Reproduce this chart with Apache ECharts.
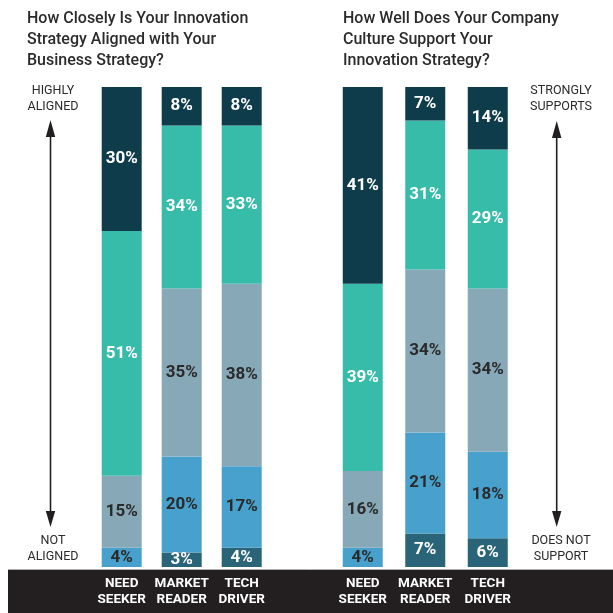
<!DOCTYPE html>
<html>
<head>
<meta charset="utf-8">
<script src="https://cdn.jsdelivr.net/npm/echarts@6/dist/echarts.min.js"></script>
<style>
html,body{margin:0;padding:0;background:#fff;}
#c{width:613px;height:613px;}
</style>
</head>
<body>
<div id="c"></div>
<script>
// ---- data ----
var categories = ['NEED\nSEEKER', 'MARKET\nREADER', 'TECH\nDRIVER'];
var leftTitle = 'How Closely Is Your Innovation\nStrategy Aligned with Your\nBusiness Strategy?';
var rightTitle = 'How Well Does Your Company\nCulture Support Your\nInnovation Strategy?';
// bottom (lowest) level to top (highest) level
var alignLevel1 = [0, 3, 4];
var alignLevel2 = [4, 20, 17];
var alignLevel3 = [15, 35, 38];
var alignLevel4 = [51, 34, 33];
var alignLevel5 = [30, 8, 8];
var cultureLevel1 = [0, 7, 6];
var cultureLevel2 = [4, 21, 18];
var cultureLevel3 = [16, 34, 34];
var cultureLevel4 = [39, 31, 29];
var cultureLevel5 = [41, 7, 14];
var leftScaleTop = 'HIGHLY\nALIGNED', leftScaleBottom = 'NOT\nALIGNED';
var rightScaleTop = 'STRONGLY\nSUPPORTS', rightScaleBottom = 'DOES NOT\nSUPPORT';

// ---- style ----
var levelColors = ['#2a6478', '#48a1cc', '#87a8b7', '#38bcaa', '#0f3c4b'];
var labelColors = ['#ffffff', '#2a2a2a', '#2a2a2a', '#ffffff', '#ffffff'];
var FONT = 'Roboto, "Liberation Sans", sans-serif';

function makeSeries(levels, idx) {
  return levels.map(function (vals, i) {
    return {
      type: 'bar',
      name: 'L' + (i + 1),
      xAxisIndex: idx, yAxisIndex: idx,
      stack: 'p' + idx,
      barWidth: 40,
      data: vals,
      itemStyle: { color: levelColors[i] },
      label: {
        show: true, position: 'inside',
        color: labelColors[i], fontFamily: FONT, fontWeight: 'bold', fontSize: 17,
        formatter: function (p) { return p.value ? p.value + '%' : ''; }
      },
      emphasis: { disabled: true },
      silent: true
    };
  });
}

function axisPair(idx) {
  return {
    x: {
      type: 'category', gridIndex: idx, data: categories,
      axisLine: { show: false }, axisTick: { show: false },
      axisLabel: { interval: 0, color: '#ffffff', fontFamily: FONT, fontWeight: 'bold', fontSize: 13.5, lineHeight: 15.5, margin: 9 }
    },
    y: {
      type: 'value', gridIndex: idx, min: 0, max: 100,
      show: false, splitLine: { show: false }
    }
  };
}
var a0 = axisPair(0), a1 = axisPair(1);

function arrow(x, yTop, yBot) {
  return [
    { type: 'line', shape: { x1: x, y1: yTop + 14, x2: x, y2: yBot - 14 }, style: { stroke: '#231f20', lineWidth: 1.6 } },
    { type: 'polygon', shape: { points: [[x, yTop], [x - 4.7, yTop + 17], [x + 4.7, yTop + 17]] }, style: { fill: '#231f20' } },
    { type: 'polygon', shape: { points: [[x, yBot], [x - 4.7, yBot - 16], [x + 4.7, yBot - 16]] }, style: { fill: '#231f20' } }
  ];
}
function scaleText(txt, x, y) {
  return { type: 'text', x: x, y: y, style: { text: txt, fill: '#2a2a2a', font: '12.5px ' + FONT, align: 'center', verticalAlign: 'middle', lineHeight: 15.5 } };
}

var graphics = [
  { type: 'rect', z: -1, shape: { x: 8, y: 570, width: 605, height: 43 }, style: { fill: '#231f20' } },
  { type: 'line', z: -1, shape: { x1: 8, y1: 569.5, x2: 613, y2: 569.5 }, style: { stroke: '#b0b0b0', lineWidth: 1 } },
  { type: 'text', x: 27, y: 8, style: { text: leftTitle, fill: '#2b2b2b', font: '500 16px ' + FONT, lineHeight: 21 } },
  { type: 'text', x: 343, y: 8, style: { text: rightTitle, fill: '#2b2b2b', font: '500 16px ' + FONT, lineHeight: 21 } },
  scaleText(leftScaleTop, 53, 99),
  scaleText(leftScaleBottom, 53, 549),
  scaleText(rightScaleTop, 561, 99),
  scaleText(rightScaleBottom, 561, 549)
].concat(arrow(50.5, 120, 527)).concat(arrow(556.7, 121, 527));

var chart = echarts.init(document.getElementById('c'), null, { renderer: 'canvas' });
chart.setOption({
  animation: false,
  backgroundColor: '#ffffff',
  grid: [
    { left: 91.7, top: 87, width: 180, height: 480 },
    { left: 331.5, top: 87, width: 187.5, height: 480 }
  ],
  xAxis: [a0.x, a1.x],
  yAxis: [a0.y, a1.y],
  series: makeSeries([alignLevel1, alignLevel2, alignLevel3, alignLevel4, alignLevel5], 0)
    .concat(makeSeries([cultureLevel1, cultureLevel2, cultureLevel3, cultureLevel4, cultureLevel5], 1)),
  graphic: graphics
});
</script>
</body>
</html>
